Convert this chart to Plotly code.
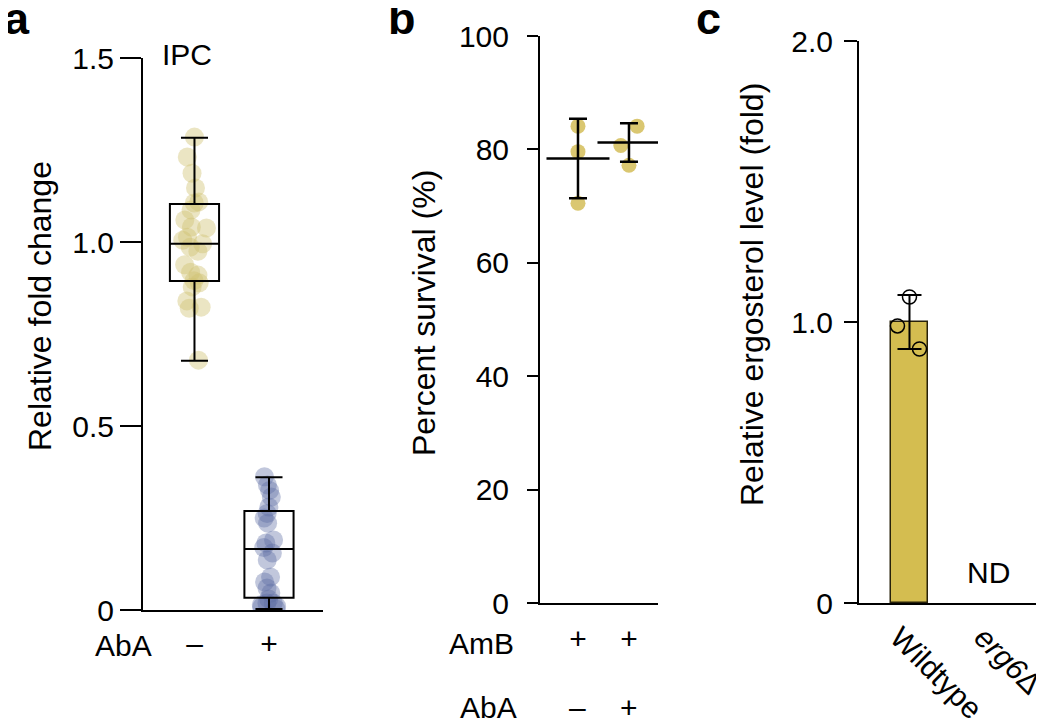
import plotly.graph_objects as go

# ---------------- data ----------------
# Panel a: IPC relative fold change, AbA - / +
aba_groups = ["–", "+"]
ipc_minus = [1.285, 1.231, 1.187, 1.147, 1.109, 1.106, 1.087, 1.060, 1.041, 1.038,
             1.013, 1.005, 0.995, 0.986, 0.975, 0.938, 0.918, 0.910, 0.895, 0.889,
             0.878, 0.840, 0.823, 0.820, 0.679]
ipc_plus = [0.362, 0.340, 0.325, 0.307, 0.280, 0.262, 0.250, 0.236, 0.190, 0.182,
            0.170, 0.155, 0.136, 0.090, 0.076, 0.060, 0.046, 0.030, 0.019, 0.014,
            0.019, 0.008, 0.003, 0.010]
box_q1 = [0.894, 0.033]
box_median = [0.995, 0.166]
box_q3 = [1.103, 0.269]
box_low = [0.677, 0.003]
box_high = [1.283, 0.361]
a_yticks = [0, 0.5, 1.0, 1.5]
a_yticklabels = ["0", "0.5", "1.0", "1.5"]

# Panel b: percent survival
amb_signs = ["+", "+"]
b_aba_signs = ["–", "+"]
survival_minus = [84.1, 79.6, 70.5]
survival_plus = [84.1, 80.7, 77.2]
survival_mean = [78.4, 81.2]
survival_sd = [7.0, 3.4]
b_yticks = [0, 20, 40, 60, 80, 100]

# Panel c: relative ergosterol level
strains = ["Wildtype", "<i>erg6</i>Δ"]
ergosterol_mean = [1.0, None]
ergosterol_sd = [0.096, 0]
ergosterol_points = [1.089, 0.986, 0.904]
c_yticks = [0, 1.0, 2.0]
c_yticklabels = ["0", "1.0", "2.0"]

# ---------------- styling ----------------
FONT = "Liberation Sans, Arial, Helvetica, sans-serif"
TICKF = 30
TITLEF = 32
W, H = 1044, 724
OFF = 8  # page margin of the html body
YELLOW_PT = "rgba(208,194,112,0.42)"
BLUE_PT = "rgba(92,108,162,0.38)"
B_DOT = "rgb(214,193,98)"
BAR = "rgb(212,189,80)"

b_jitter = [[0.0, 0.0, 0.0], [0.16, -0.16, 0.0]]
c_jitter = [0.0, -0.143, 0.119]
c_label_shift = -0.125


def px_x(p):
    return (p - OFF) / W


def px_y(p):
    return 1 - (p - OFF) / H


fig = go.Figure()

# ---- panel a ----
for i, (vals, col) in enumerate([(ipc_minus, YELLOW_PT), (ipc_plus, BLUE_PT)]):
    fig.add_trace(go.Box(
        x=[i] * len(vals), y=vals, boxpoints="all", jitter=0.55, pointpos=0,
        width=0.66, line=dict(width=0, color="rgba(0,0,0,0)"),
        fillcolor="rgba(0,0,0,0)",
        marker=dict(size=19, color=col, line=dict(width=0)),
        showlegend=False, hoverinfo="y", xaxis="x", yaxis="y"))

fig.add_trace(go.Box(
    x=[0, 1], q1=box_q1, median=box_median, q3=box_q3,
    lowerfence=box_low, upperfence=box_high, boxpoints=False,
    width=0.66, whiskerwidth=0.55, line=dict(color="black", width=2),
    fillcolor="rgba(0,0,0,0)", showlegend=False, xaxis="x", yaxis="y"))

# ---- panel b ----
for i, vals in enumerate([survival_minus, survival_plus]):
    fig.add_trace(go.Scatter(
        x=[i + j for j in b_jitter[i]], y=vals, mode="markers",
        marker=dict(size=15, color=B_DOT, opacity=0.9),
        showlegend=False, xaxis="x2", yaxis="y2"))

fig.add_trace(go.Scatter(
    x=[0, 1], y=survival_mean, mode="markers",
    marker=dict(symbol="line-ew", size=45, line=dict(width=2.5, color="black")),
    error_y=dict(type="data", array=survival_sd, color="black", thickness=2.5, width=9),
    showlegend=False, xaxis="x2", yaxis="y2"))

# ---- panel c ----
fig.add_trace(go.Bar(
    x=[0, 1], y=ergosterol_mean, width=0.44,
    marker=dict(color=BAR, line=dict(color="rgb(40,34,10)", width=1.5)),
    error_y=dict(type="data", array=ergosterol_sd, color="black", thickness=2, width=12),
    showlegend=False, xaxis="x3", yaxis="y3"))

fig.add_trace(go.Scatter(
    x=[0 + j for j in c_jitter], y=ergosterol_points, mode="markers",
    marker=dict(symbol="circle-open", size=14, color="black", line=dict(width=1.5)),
    showlegend=False, xaxis="x3", yaxis="y3"))

axis_common = dict(showline=True, linecolor="black", linewidth=2, showgrid=False,
                   zeroline=False, automargin=False, ticklabeloverflow="allow",
                   tickfont=dict(size=TICKF, color="black", family=FONT),
                   tickcolor="black", tickwidth=2)

fig.update_layout(
    width=W, height=H, margin=dict(l=0, r=0, t=0, b=0, autoexpand=False),
    paper_bgcolor="white", plot_bgcolor="white",
    font=dict(family=FONT, color="black", size=TICKF),
    boxmode="overlay", bargap=0,
    xaxis=dict(domain=[px_x(143), px_x(323)], range=[-0.691, 1.725], anchor="y",
               tickvals=[0, 1], ticktext=aba_groups, ticks="", ticklabelstandoff=6,
               **axis_common),
    yaxis=dict(domain=[px_y(610), px_y(58)], range=[0, 1.5], anchor="x",
               tickvals=a_yticks, ticktext=a_yticklabels, ticks="outside", ticklen=21,
               **axis_common),
    xaxis2=dict(domain=[px_x(540), px_x(658)], range=[-0.745, 1.569], anchor="y2",
                tickvals=[0, 1], ticktext=amb_signs, ticks="", ticklabelstandoff=8,
                **axis_common),
    yaxis2=dict(domain=[px_y(603), px_y(36)], range=[0, 100], anchor="x2",
                tickvals=b_yticks, ticks="outside", ticklen=11, ticklabelstandoff=12,
                **axis_common),
    xaxis3=dict(domain=[px_x(859), px_x(1037)], range=[-0.601, 1.518], anchor="y3",
                tickvals=[i + c_label_shift for i in range(len(strains))], ticktext=strains,
                ticks="", tickangle=45, ticklabelstandoff=3, **axis_common),
    yaxis3=dict(domain=[px_y(603), px_y(41)], range=[0, 2.0], anchor="x3",
                tickvals=c_yticks, ticktext=c_yticklabels, ticks="outside", ticklen=13,
                ticklabelstandoff=5, **axis_common),
)

ann = []
# panel letters
for letter, xl in [("a", 2), ("b", 386), ("c", 694)]:
    ann.append(dict(text=f"<b>{letter}</b>", x=px_x(xl), y=px_y(19), xref="paper", yref="paper",
                    xanchor="left", yanchor="middle", showarrow=False,
                    font=dict(size=45, family=FONT, color="black")))
# y titles
for text, xc, yc in [("Relative fold change", 40, 306),
                     ("Percent survival (%)", 424, 313),
                     ("Relative ergosterol level (fold)", 752, 295)]:
    ann.append(dict(text=text, x=px_x(xc), y=px_y(yc), xref="paper", yref="paper",
                    xanchor="center", yanchor="middle", textangle=-90, showarrow=False,
                    font=dict(size=TITLEF, family=FONT, color="black")))
# row labels
ann.append(dict(text="AbA", x=px_x(154), y=px_y(645), xref="paper", yref="paper",
                xanchor="right", yanchor="middle", showarrow=False, font=dict(size=TICKF)))
ann.append(dict(text="AmB", x=px_x(516), y=px_y(643), xref="paper", yref="paper",
                xanchor="right", yanchor="middle", showarrow=False, font=dict(size=TICKF)))
ann.append(dict(text="AbA", x=px_x(519), y=px_y(707), xref="paper", yref="paper",
                xanchor="right", yanchor="middle", showarrow=False, font=dict(size=TICKF)))
for i, s in enumerate(b_aba_signs):
    ann.append(dict(text=s, x=i, y=px_y(707), xref="x2", yref="paper",
                    xanchor="center", yanchor="middle", showarrow=False, font=dict(size=TICKF)))
ann.append(dict(text="IPC", x=px_x(187), y=px_y(54), xref="paper", yref="paper",
                xanchor="center", yanchor="middle", showarrow=False, font=dict(size=TICKF)))
ann.append(dict(text="ND", x=px_x(988), y=px_y(572), xref="paper", yref="paper",
                xanchor="center", yanchor="middle", showarrow=False, font=dict(size=TICKF)))
fig.update_layout(annotations=ann)

fig.write_html("out.html")
